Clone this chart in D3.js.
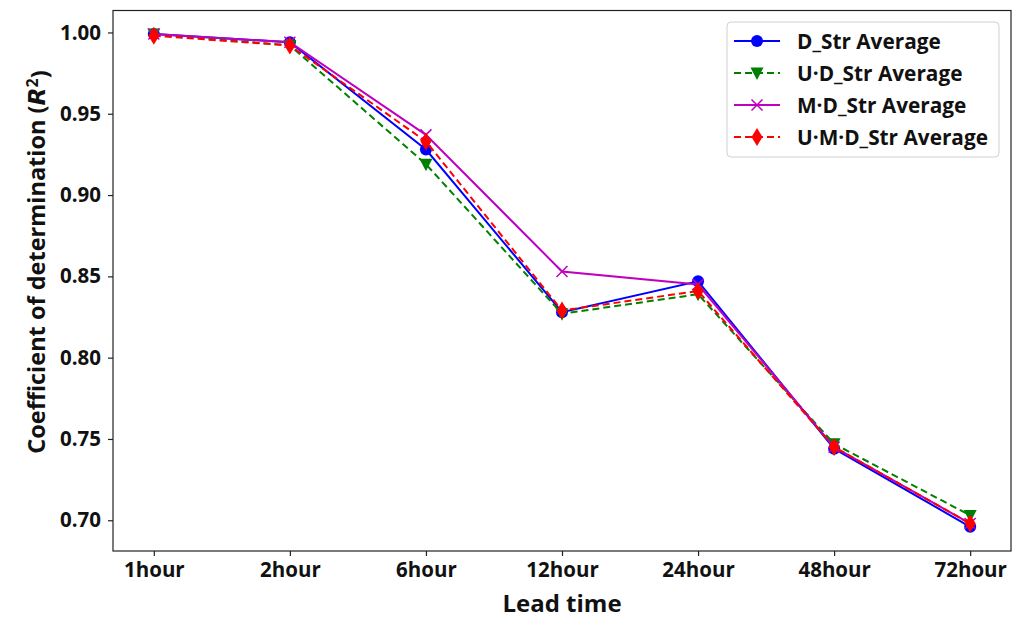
<!DOCTYPE html>
<meta charset="utf-8">
<script src="https://d3js.org/d3.v7.min.js"></script>
<style>
  body { margin: 0; background: #fff; }
  text { font-family: "Open Sans", "Noto Sans", sans-serif; }
</style>
<div id="chart"></div>
<script>
// data
var leadTimes = ["1hour", "2hour", "6hour", "12hour", "24hour", "48hour", "72hour"];
var dStr   = [0.999, 0.994, 0.928, 0.828, 0.847, 0.744, 0.696];
var udStr  = [0.999, 0.992, 0.919, 0.827, 0.839, 0.747, 0.703];
var mdStr  = [0.999, 0.994, 0.937, 0.853, 0.845, 0.745, 0.698];
var umdStr = [0.998, 0.992, 0.933, 0.829, 0.841, 0.745, 0.698];
var yTicks = [0.70, 0.75, 0.80, 0.85, 0.90, 0.95, 1.00];

var series = [
  {name: "D_Str Average",     values: dStr,   color: "#0000ff", dash: null,  marker: "circle"},
  {name: "U\u00b7D_Str Average",   values: udStr,  color: "#008000", dash: "7,4", marker: "triangle"},
  {name: "M\u00b7D_Str Average",   values: mdStr,  color: "#bf00bf", dash: null,  marker: "x"},
  {name: "U\u00b7M\u00b7D_Str Average", values: umdStr, color: "#ff0000", dash: "7,4", marker: "diamond"}
];

var W = 1022, H = 619;
var margin = {top: 10.5, right: 11, bottom: 68, left: 113};
var width = W - margin.left - margin.right,
    height = H - margin.top - margin.bottom;

var svg = d3.select("#chart").append("svg")
    .attr("width", W).attr("height", H);
var g = svg.append("g")
    .attr("transform", "translate(" + margin.left + "," + margin.top + ")");

var x = d3.scaleLinear().domain([-0.3, leadTimes.length - 1 + 0.3]).range([0, width]);
var y = d3.scaleLinear().domain([0.6811, 1.0135]).range([height, 0]);

// axes
var xAxis = g.append("g")
    .attr("transform", "translate(0," + height + ")")
    .call(d3.axisBottom(x).tickValues(d3.range(leadTimes.length))
      .tickFormat(function(i) { return leadTimes[i]; }).tickSize(5).tickPadding(5));
var yAxis = g.append("g")
    .call(d3.axisLeft(y).tickValues(yTicks).tickFormat(d3.format(".2f")).tickSize(5).tickPadding(7));

[xAxis, yAxis].forEach(function(a) {
  a.select(".domain").remove();
  a.selectAll(".tick line").attr("stroke", "#222").attr("stroke-width", 1.2);
  a.selectAll(".tick text").attr("fill", "#111").style("font-size", "20.5px").style("font-weight", "bold")
    .style("font-family", "\"Open Sans\", sans-serif");
});
xAxis.selectAll(".tick text").attr("dy", "0.8em");

// frame
g.append("rect").attr("width", width).attr("height", height)
  .attr("fill", "none").attr("stroke", "#222").attr("stroke-width", 1.2);

// lines
var line = d3.line()
  .x(function(d, i) { return x(i); })
  .y(function(d) { return y(d); });

function drawMarker(sel, type, color) {
  if (type === "circle") {
    sel.append("circle").attr("r", 6).attr("fill", color);
  } else if (type === "triangle") {
    sel.append("path").attr("d", "M-6.5,-5.5L6.5,-5.5L0,7Z").attr("fill", color);
  } else if (type === "x") {
    sel.append("path").attr("d", "M-5.5,-5.5L5.5,5.5M-5.5,5.5L5.5,-5.5")
      .attr("stroke", color).attr("stroke-width", 1.5).attr("fill", "none");
  } else if (type === "diamond") {
    sel.append("path").attr("d", "M0,-9L5.5,0L0,9L-5.5,0Z").attr("fill", color);
  }
}

series.forEach(function(s) {
  g.append("path")
    .datum(s.values)
    .attr("fill", "none")
    .attr("stroke", s.color)
    .attr("stroke-width", 2)
    .attr("stroke-dasharray", s.dash)
    .attr("d", line);
  g.selectAll(null)
    .data(s.values)
    .enter().append("g")
      .attr("transform", function(d, i) { return "translate(" + x(i) + "," + y(d) + ")"; })
      .each(function() { drawMarker(d3.select(this), s.marker, s.color); });
});

// legend
var legend = svg.append("g").attr("transform", "translate(727,22)");
legend.append("rect")
  .attr("width", 272).attr("height", 135).attr("rx", 4)
  .attr("fill", "#fff").attr("fill-opacity", 0.8)
  .attr("stroke", "#d0d0d0").attr("stroke-width", 1);

series.forEach(function(s, i) {
  var row = legend.append("g").attr("transform", "translate(0," + (19 + i * 32) + ")");
  row.append("line")
    .attr("x1", 7).attr("x2", 53)
    .attr("stroke", s.color).attr("stroke-width", 2)
    .attr("stroke-dasharray", s.dash);
  drawMarker(row.append("g").attr("transform", "translate(30,0)"), s.marker, s.color);
  row.append("text")
    .attr("x", 70).attr("dy", "0.36em")
    .style("font-size", "20.8px").style("font-weight", "bold").attr("fill", "#111")
    .text(s.name);
});

// axis titles
svg.append("text")
  .attr("x", margin.left + width / 2).attr("y", 612)
  .attr("text-anchor", "middle")
  .style("font-size", "24px").style("font-weight", "bold").attr("fill", "#111")
  .text("Lead time");

var yt = svg.append("text")
  .attr("transform", "translate(45,262) rotate(-90)")
  .attr("text-anchor", "middle")
  .style("font-size", "23.5px").style("font-weight", "bold").attr("fill", "#111");
yt.append("tspan").text("Coefficient of determination (");
yt.append("tspan").style("font-style", "italic").style("font-family", "\"DejaVu Sans\", sans-serif").text("R");
yt.append("tspan").attr("dy", "-0.45em").style("font-size", "16px").text("2");
yt.append("tspan").attr("dy", "0.45em").text(")");
</script>
